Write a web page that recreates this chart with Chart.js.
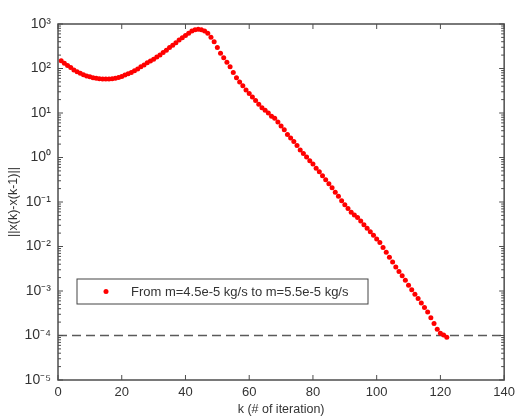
<!DOCTYPE html>
<html>
<head>
<meta charset="utf-8">
<script src="https://cdn.jsdelivr.net/npm/chart.js@4.4.1/dist/chart.umd.min.js"></script>
<style>
  html, body { margin: 0; padding: 0; background: #fff; }
  #wrap { width: 520px; height: 417px; }
</style>
</head>
<body>
<div id="wrap"><canvas id="chart"></canvas></div>
<script>
// iteration number k
const iterations = [
  1, 2, 3, 4, 5, 6, 7, 8, 9, 10, 11, 12, 13, 14, 15, 16, 17, 18, 19, 20,
  21, 22, 23, 24, 25, 26, 27, 28, 29, 30, 31, 32, 33, 34, 35, 36, 37, 38, 39, 40,
  41, 42, 43, 44, 45, 46, 47, 48, 49, 50, 51, 52, 53, 54, 55, 56, 57, 58, 59, 60,
  61, 62, 63, 64, 65, 66, 67, 68, 69, 70, 71, 72, 73, 74, 75, 76, 77, 78, 79, 80,
  81, 82, 83, 84, 85, 86, 87, 88, 89, 90, 91, 92, 93, 94, 95, 96, 97, 98, 99, 100,
  101, 102, 103, 104, 105, 106, 107, 108, 109, 110, 111, 112, 113, 114, 115, 116, 117, 118, 119, 120,
  121, 122
];

// ||x(k)-x(k-1)||
const residuals = [
  150, 132, 117, 105, 93, 85, 78, 72, 68, 65, 62, 60, 59, 58, 58, 58, 59, 60, 63, 66,
  71, 76, 81, 89, 98, 110, 120, 135, 148, 162, 182, 200, 229, 257, 295, 331, 380, 437, 490, 550,
  617, 692, 741, 759, 741, 692, 617, 501, 398, 295, 219, 174, 138, 110, 81, 62, 50, 41, 33, 27.5,
  22.9, 19.1, 15.8, 13.2, 11.5, 10, 8.5, 7.6, 6.3, 5.1, 4.2, 3.3, 2.75, 2.3, 1.86, 1.48, 1.23, 1.02, 0.85, 0.71,
  0.575, 0.48, 0.39, 0.316, 0.257, 0.209, 0.166, 0.135, 0.107, 0.087, 0.071, 0.059, 0.051, 0.0447, 0.0372, 0.0309, 0.0257, 0.0214, 0.0178, 0.0148,
  0.0123, 0.00955, 0.00741, 0.00575, 0.00447, 0.00347, 0.00275, 0.00219, 0.00174, 0.00135, 0.00107, 0.00085, 0.00068, 0.00054, 0.000427, 0.000339, 0.000251, 0.000186, 0.000138, 0.000112,
  0.000102, 0.000091
];

const tolerance = 1e-4;
const xTicks = [0, 20, 40, 60, 80, 100, 120, 140];
const yTickValues = [1e-5, 1e-4, 1e-3, 1e-2, 1e-1, 1e0, 1e1, 1e2, 1e3];
const yTickLabels = ['10⁻⁵', '10⁻⁴', '10⁻³', '10⁻²', '10⁻¹', '10⁰', '10¹', '10²', '10³'];
const seriesLabel = 'From m=4.5e-5 kg/s to m=5.5e-5 kg/s';

const axisColor = '#4d4d4d';
const textColor = '#333';
const fontFamily = '"Liberation Sans", Arial, sans-serif';

// box, inside ticks and legend like the matlab figure
const framePlugin = {
  id: 'frame',
  afterDraw(chart) {
    const { ctx, chartArea: a, scales: { x, y } } = chart;
    ctx.save();
    ctx.strokeStyle = axisColor;
    ctx.lineWidth = 1.5;
    ctx.strokeRect(a.left, a.top, a.right - a.left, a.bottom - a.top);

    ctx.lineWidth = 1;
    ctx.beginPath();
    for (const v of xTicks) {
      const px = x.getPixelForValue(v);
      ctx.moveTo(px, a.bottom); ctx.lineTo(px, a.bottom - 5);
      ctx.moveTo(px, a.top); ctx.lineTo(px, a.top + 5);
    }
    for (const v of yTickValues) {
      const py = y.getPixelForValue(v);
      ctx.moveTo(a.left, py); ctx.lineTo(a.left + 5, py);
      ctx.moveTo(a.right, py); ctx.lineTo(a.right - 5, py);
      if (v < 1e3) {
        for (let m = 2; m <= 9; m++) {
          const pm = y.getPixelForValue(v * m);
          ctx.moveTo(a.left, pm); ctx.lineTo(a.left + 3, pm);
          ctx.moveTo(a.right, pm); ctx.lineTo(a.right - 3, pm);
        }
      }
    }
    ctx.stroke();

    // legend box
    const bx = a.left + 19, by = a.top + 255, bw = 291, bh = 25;
    ctx.fillStyle = '#fff';
    ctx.fillRect(bx, by, bw, bh);
    ctx.strokeStyle = '#444';
    ctx.lineWidth = 1;
    ctx.strokeRect(bx, by, bw, bh);
    ctx.fillStyle = '#ff0000';
    ctx.beginPath();
    ctx.arc(bx + 29, by + bh / 2, 2.5, 0, Math.PI * 2);
    ctx.fill();
    ctx.fillStyle = textColor;
    ctx.font = '13px ' + fontFamily;
    ctx.textBaseline = 'middle';
    ctx.fillText(seriesLabel, bx + 54, by + bh / 2 + 1);
    ctx.restore();
  }
};

new Chart(document.getElementById('chart'), {
  type: 'scatter',
  data: {
    datasets: [
      {
        label: seriesLabel,
        data: iterations.map((k, i) => ({ x: k, y: residuals[i] })),
        backgroundColor: '#ff0000',
        borderColor: '#ff0000',
        pointRadius: 2.5,
        pointBorderWidth: 0,
        showLine: false
      },
      {
        label: 'tolerance',
        data: [{ x: 0, y: tolerance }, { x: 140, y: tolerance }],
        borderColor: '#5a5a5a',
        borderWidth: 1.6,
        borderDash: [9, 5],
        pointRadius: 0,
        showLine: true
      }
    ]
  },
  options: {
    responsive: true,
    maintainAspectRatio: false,
    animation: false,
    layout: { padding: { top: 24, right: 10, left: 0, bottom: 0 } },
    plugins: {
      legend: { display: false },
      tooltip: { enabled: false }
    },
    scales: {
      x: {
        type: 'linear',
        min: 0,
        max: 140,
        afterBuildTicks: scale => { scale.ticks = xTicks.map(v => ({ value: v })); },
        afterFit: scale => { scale.height = 37; },
        grid: { display: false, drawTicks: false },
        border: { display: false },
        ticks: { color: textColor, padding: 5, font: { size: 13, family: fontFamily } },
        title: {
          display: true,
          text: 'k (# of iteration)',
          color: textColor,
          padding: { top: 1, bottom: 0 },
          font: { size: 12.5, family: fontFamily }
        }
      },
      y: {
        type: 'logarithmic',
        min: 1e-5,
        max: 1e3,
        afterBuildTicks: scale => { scale.ticks = yTickValues.map(v => ({ value: v, major: true })); },
        afterFit: scale => { scale.width = 58; },
        grid: { display: false, drawTicks: false },
        border: { display: false },
        ticks: {
          color: textColor,
          padding: 7,
          font: { size: 14, family: fontFamily },
          callback: v => yTickLabels[yTickValues.indexOf(v)] ?? ''
        },
        title: {
          display: true,
          text: '||x(k)-x(k-1)||',
          color: textColor,
          padding: { top: 6, bottom: 0 },
          font: { size: 12.5, family: fontFamily }
        }
      }
    }
  },
  plugins: [framePlugin]
});
</script>
</body>
</html>
